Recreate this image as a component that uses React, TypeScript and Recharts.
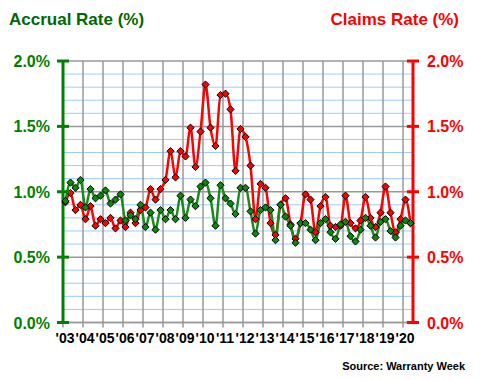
import React from 'react';
import { LineChart, Line, XAxis, YAxis, ReferenceLine } from 'recharts';

// quarterly, 2003 Q1 .. 2020 Q2
const startYear = 2003;
const accrualRate = [
  0.93, 1.07, 1.03, 1.09, 0.88, 1.02, 0.95, 0.97, 1.01, 0.91, 0.94, 0.98,
  0.78, 0.82, 0.79, 0.9, 0.73, 0.84, 0.71, 0.86, 0.79, 0.86, 0.79, 0.97,
  0.8, 0.94, 0.89, 1.04, 1.07, 0.95, 0.74, 1.05, 0.95, 0.91, 0.83, 1.03,
  1.03, 0.85, 0.68, 0.86, 0.88, 0.86, 0.63, 0.9, 0.81, 0.74, 0.61, 0.76,
  0.76, 0.71, 0.63, 0.76, 0.79, 0.69, 0.64, 0.75, 0.77, 0.66, 0.62, 0.71,
  0.8, 0.74, 0.65, 0.77, 0.79, 0.7, 0.65, 0.74, 0.78, 0.76,
];
const claimsRate = [
  0.92, 0.99, 0.86, 0.9, 0.79, 0.89, 0.74, 0.79, 0.76, 0.8, 0.72, 0.78,
  0.73, 0.84, 0.76, 0.86, 0.88, 1.02, 0.94, 1.02, 1.09, 1.31, 1.11, 1.31,
  1.27, 1.49, 1.19, 1.46, 1.82, 1.49, 1.35, 1.74, 1.75, 1.63, 1.16, 1.48,
  1.42, 1.2, 0.79, 1.06, 1.03, 0.76, 0.67, 0.9, 0.95, 0.75, 0.64, 0.76,
  0.98, 0.94, 0.69, 0.89, 0.96, 0.74, 0.73, 0.74, 0.97, 0.76, 0.72, 0.78,
  0.96, 0.8, 0.73, 0.84, 1.04, 0.84, 0.69, 0.79, 0.94, 0.76,
];
const yearTicks = [
  2003, 2004, 2005, 2006, 2007, 2008, 2009, 2010, 2011, 2012, 2013, 2014,
  2015, 2016, 2017, 2018, 2019, 2020,
];
const rateTicks = [0, 0.5, 1, 1.5, 2];
const minorLines = [
  0.1, 0.2, 0.3, 0.4, 0.6, 0.7, 0.8, 0.9, 1.1, 1.2, 1.3, 1.4, 1.6, 1.7, 1.8, 1.9,
];

const data = accrualRate.map((a, i) => ({
  t: startYear + (i + 0.5) / 4,
  accrual: a,
  claims: claimsRate[i],
}));

const GREEN = '#008000';
const RED = '#ff0000';
const GRID = '#999999';
const MINOR = '#99ccff';
const FONT = '"Liberation Sans", Arial, sans-serif';

const PLOT_LEFT = 63;
const PLOT_RIGHT = 413;

const diamond = (fill: string) => (props: any) => {
  const { cx, cy, index } = props;
  if (cx == null || cy == null) return <g key={index} />;
  const r = 3.6;
  return (
    <path
      key={index}
      d={`M${cx},${cy - r}L${cx + r},${cy}L${cx},${cy + r}L${cx - r},${cy}Z`}
      fill={fill}
      stroke="#000"
      strokeWidth={1}
    />
  );
};

const LeftTick = (props: any) => {
  const { y, payload } = props;
  return (
    <g>
      <line x1={PLOT_LEFT - 6} x2={PLOT_LEFT + 6} y1={y} y2={y} stroke={GREEN} strokeWidth={3} />
      <text x={50} y={y} dy={6} textAnchor="end" fill={GREEN} fontSize={16} fontWeight="bold" fontFamily={FONT}>
        {payload.value.toFixed(1)}%
      </text>
    </g>
  );
};

const RightTick = (props: any) => {
  const { y, payload } = props;
  return (
    <g>
      <line x1={PLOT_RIGHT - 6} x2={PLOT_RIGHT + 6} y1={y} y2={y} stroke={RED} strokeWidth={3} />
      <text x={427} y={y} dy={6} textAnchor="start" fill={RED} fontSize={16} fontWeight="bold" fontFamily={FONT}>
        {payload.value.toFixed(1)}%
      </text>
    </g>
  );
};

export default function App() {
  return (
    <div style={{ position: 'absolute', left: 0, top: 0, width: 480, height: 380, background: '#fff' }}>
      <LineChart
        width={480}
        height={380}
        data={data}
        margin={{ top: 61, right: 0, bottom: 27.5, left: 0 }}
      >
        {minorLines.map((v) => (
          <ReferenceLine key={`m${v}`} yAxisId="l" y={v} stroke={MINOR} strokeWidth={1} />
        ))}
        {rateTicks.map((v) => (
          <ReferenceLine key={`M${v}`} yAxisId="l" y={v} stroke={GRID} strokeWidth={1.5} />
        ))}
        {yearTicks.slice(1).map((v) => (
          <ReferenceLine key={`x${v}`} yAxisId="l" x={v} stroke={GRID} strokeWidth={1.5} />
        ))}
        <XAxis
          dataKey="t"
          type="number"
          domain={[2003, 2020.5]}
          ticks={yearTicks}
          interval={0}
          height={30}
          axisLine={{ stroke: GRID, strokeWidth: 1.5 }}
          tickLine={{ stroke: GRID, strokeWidth: 1.5 }}
          tickSize={5}
          tickMargin={6}
          tickFormatter={(v: number) => "'" + String(v).slice(2)}
          tick={{ fill: '#000', fontSize: 14, fontWeight: 'bold', fontFamily: FONT, dx: 2 }}
        />
        <YAxis
          yAxisId="l"
          orientation="left"
          domain={[0, 2]}
          ticks={rateTicks}
          width={63}
          axisLine={{ stroke: GREEN, strokeWidth: 3 }}
          tickLine={false}
          tick={<LeftTick />}
        />
        <YAxis
          yAxisId="r"
          orientation="right"
          domain={[0, 2]}
          ticks={rateTicks}
          width={67}
          axisLine={{ stroke: RED, strokeWidth: 3 }}
          tickLine={false}
          tick={<RightTick />}
        />
        <Line
          yAxisId="r"
          type="monotone"
          dataKey="claims"
          stroke={RED}
          strokeWidth={2.5}
          dot={diamond(RED)}
          activeDot={false}
          isAnimationActive={false}
        />
        <Line
          yAxisId="l"
          type="monotone"
          dataKey="accrual"
          stroke="#1a8a1a"
          strokeWidth={2.5}
          dot={diamond('#0a8a0a')}
          activeDot={false}
          isAnimationActive={false}
        />
      </LineChart>
      <svg
        width={480}
        height={380}
        style={{ position: 'absolute', left: 0, top: 0, pointerEvents: 'none' }}
      >
        <text x={9} y={25} fill="#006a00" fontSize={17} fontWeight="bold" fontFamily={FONT}>
          Accrual Rate (%)
        </text>
        <text x={459} y={25} textAnchor="end" fill={RED} fontSize={17} fontWeight="bold" fontFamily={FONT}>
          Claims Rate (%)
        </text>
        <text x={465} y={370} textAnchor="end" fill="#000" fontSize={11} fontWeight="bold" fontFamily={FONT}>
          Source: Warranty Week
        </text>
      </svg>
    </div>
  );
}
